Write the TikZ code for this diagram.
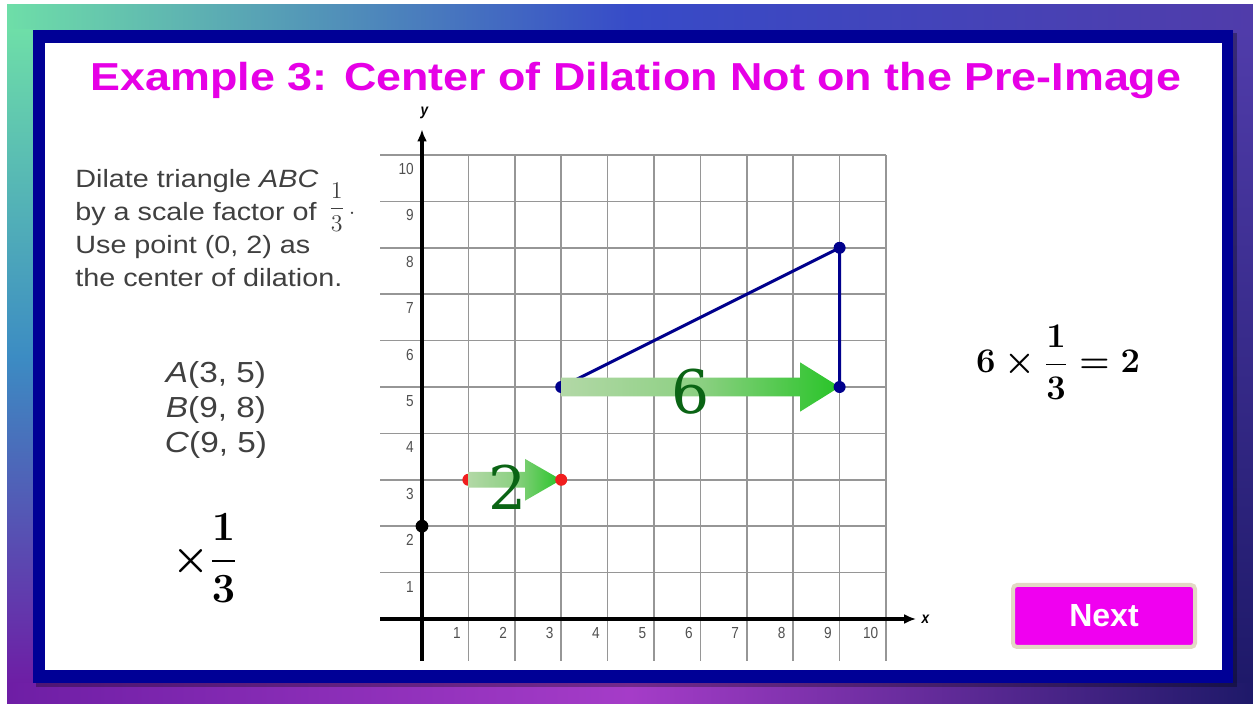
\documentclass[tikz,border=0pt]{standalone}
\usepackage{amsmath,amssymb}
\usepackage{fontspec}
\usepackage{tikz}
\usetikzlibrary{calc,arrows.meta,positioning,shadings}
\usepackage{xcolor}

\newfontfamily\slidefont[FakeStretch=1.15]{Liberation Sans}
\newfontfamily\btnfont{Liberation Sans}
\newfontfamily\tickfont[FakeStretch=0.85]{Liberation Sans}
\newfontfamily\digitfont{DejaVu Serif}

\definecolor{framenavy}{RGB}{0,0,150}
\definecolor{titlemag}{RGB}{230,0,230}
\definecolor{btnmag}{RGB}{240,0,240}
\definecolor{btnrim}{RGB}{226,216,196}
\definecolor{textgray}{RGB}{64,64,64}
\definecolor{tickgray}{RGB}{80,80,80}
\definecolor{gridgray}{RGB}{150,150,150}
\definecolor{trinavy}{RGB}{0,0,140}
\definecolor{darkgreen}{RGB}{10,100,20}
\definecolor{shaftlight}{RGB}{178,216,166}
\definecolor{shaftmid}{RGB}{140,208,130}
\definecolor{headgreen}{RGB}{40,196,40}
\definecolor{dotred}{RGB}{240,30,30}
\definecolor{bgA}{RGB}{110,222,168}
\definecolor{bgB}{RGB}{55,75,200}
\definecolor{bgC}{RGB}{80,60,170}
\definecolor{bgD}{RGB}{110,30,165}
\definecolor{bgE}{RGB}{165,60,200}
\definecolor{bgF}{RGB}{30,25,105}
\definecolor{bgG}{RGB}{60,140,195}

\begin{document}
\begin{tikzpicture}[x=0.5pt,y=-0.5pt,
  gridline/.style={gridgray, line width=0.75pt},
  axis/.style={line width=2pt, -{Latex[length=6pt,width=5pt]}},
  tick/.style={font=\tickfont\fontsize{8}{9}\selectfont, text=tickgray, inner sep=0pt, anchor=east},
  axlbl/.style={font=\tickfont\bfseries\itshape\fontsize{8}{9}\selectfont, inner sep=0pt},
  tri/.style={trinavy, line width=1.5pt},
  lbl/.style={font=\slidefont\fontsize{12.5}{16.5}\selectfont, text=textgray, inner sep=0pt, anchor=base west},
  digit/.style={font=\digitfont\fontsize{30}{36}\selectfont, text=darkgreen, inner sep=0pt},
  bigmath/.style={font=\fontsize{20}{24}\selectfont\boldmath, inner sep=0pt},
  arrowfill/.style={left color=shaftlight, right color=headgreen, middle color=shaftmid},
]
\useasboundingbox (0,0) rectangle (1253,704);
\fill[white] (0,0) rectangle (1253,704);

% background
\shade[upper left=bgA, upper right=bgC, lower left=bgD, lower right=bgF] (7,5) rectangle (1253,704);
\shade[left color=bgA, right color=bgC, middle color=bgB] (7,5) rectangle (1253,32);
\shade[left color=bgD, right color=bgF, middle color=bgE] (7,681) rectangle (1253,704);
\shade[top color=bgA, bottom color=bgD, middle color=bgG] (7,30) rectangle (35,683);
\shade[top color=bgC, bottom color=bgF] (1231,30) rectangle (1253,683);

% frame
\fill[black, opacity=0.3] (36,33) rectangle (1237,687);
\fill[framenavy] (33,30) rectangle (1233,683);
\fill[white] (45,43) rectangle (1222,670);

\node[font=\slidefont\bfseries\fontsize{19.5}{23}\selectfont, text=titlemag, anchor=base] (title) at (636,91)
  {Example 3: Center of Dilation Not on the Pre-Image};

% instructions
\foreach \t [count=\k] in {{Dilate triangle \textit{ABC}}, {by a scale factor of}, {Use point (0, 2) as}, {the center of dilation.}}{
  \node[lbl] (line\k) at (75,155+33*\k) {\t};
}
\node[font=\fontsize{12}{14}\selectfont, text=textgray, inner sep=0pt, anchor=west] (frac) at (328,207) {$\dfrac{1}{3}\,$.};

\node[font=\slidefont\fontsize{14.5}{17.5}\selectfont, text=textgray, align=center, inner sep=0pt, anchor=base] (verts) at (216,453)
  {\textit{A}(3, 5)\\ \textit{B}(9, 8)\\ \textit{C}(9, 5)};

\node[bigmath] (times) at (205,558) {$\times\dfrac{1}{3}$};
\node[bigmath, font=\fontsize{19}{23}\selectfont\boldmath] (calc) at (1058,362) {$6\times\dfrac{1}{3}=2$};

% coordinate grid
\begin{scope}[xshift=211pt, yshift=-309.5pt, x=23.2pt, y=23.2pt]
\foreach \g in {0,...,10}{
  \draw[gridline] (\g,-0.9) -- (\g,10);
  \draw[gridline] (-0.9,\g) -- (10,\g);
}
\coordinate (xs) at (-0.9,0);
\coordinate (xe) at (10.65,0);
\coordinate (ys) at (0,-0.9);
\coordinate (ye) at (0,10.55);
\draw[axis] (xs) -- (xe);
\draw[axis] (ys) -- (ye);
\node[axlbl] (xl) at (10.85,0) {x};
\node[axlbl] (yl) at (0.05,10.9) {y};
\foreach \i in {1,...,10}{
  \node[tick] (xt\i) at (\i-0.16,-0.3) {\i};
  \node[tick] (yt\i) at (-0.17,\i-0.3) {\i};
}

\coordinate (O) at (0,2);
\coordinate (A) at (3,5);
\coordinate (B) at (9,8);
\coordinate (C) at (9,5);
\coordinate (Ai) at (1,3);
\coordinate (Ci) at (3,3);

\draw[tri] (A) -- (B) -- (C);
\fill[trinavy] (A) circle (3pt);
\fill[dotred] (Ai) circle (3pt);

\shade[arrowfill] ($(A)+(0,0.2)$) -- ($(C)+(-0.85,0.2)$) -- ($(C)+(-0.85,0.53)$) -- (C)
  -- ($(C)+(-0.85,-0.53)$) -- ($(C)+(-0.85,-0.2)$) -- ($(A)+(0,-0.2)$) -- cycle;
\shade[arrowfill] ($(Ai)+(0,0.17)$) -- ($(Ci)+(-0.78,0.17)$) -- ($(Ci)+(-0.78,0.45)$) -- (Ci)
  -- ($(Ci)+(-0.78,-0.45)$) -- ($(Ci)+(-0.78,-0.17)$) -- ($(Ai)+(0,-0.17)$) -- cycle;

\node[digit] (six) at (5.78,4.89) {6};
\node[digit] (two) at (1.85,2.84) {2};

\fill[trinavy] (B) circle (3pt);
\fill[trinavy] (C) circle (3pt);
\fill[dotred] (Ci) circle (3pt);
\fill[black] (O) circle (3.2pt);
\end{scope}

\node[draw=btnrim, line width=2pt, fill=btnmag, rounded corners=2pt, minimum width=91pt, minimum height=31pt,
  font=\btnfont\bfseries\fontsize{16}{19}\selectfont, text=white] (next) at (1104,616) {Next};
\end{tikzpicture}
\end{document}
